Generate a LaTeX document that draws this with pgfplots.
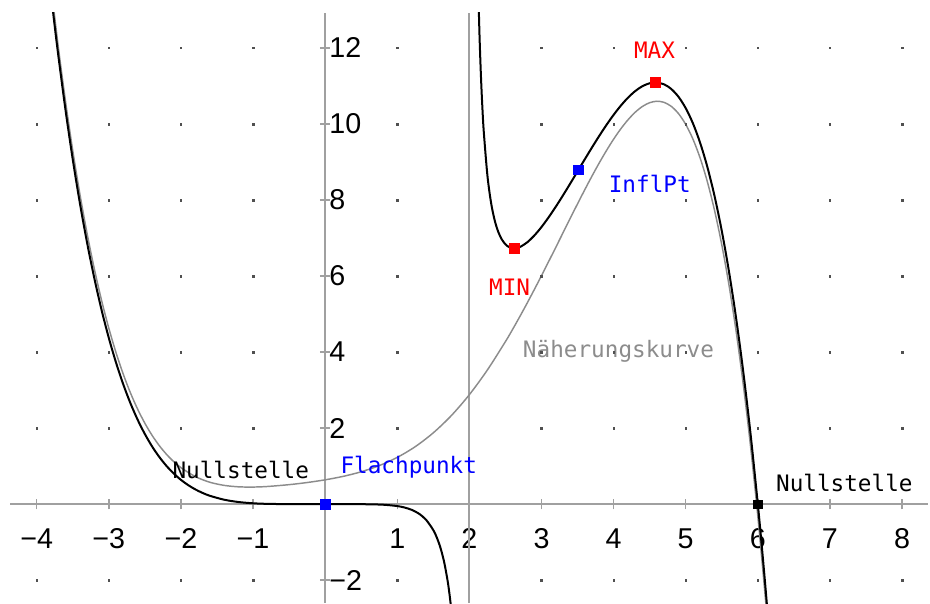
\documentclass[border=0pt]{standalone}
\usepackage{pgfplots}
\pgfplotsset{compat=1.18}
\usepackage{fontspec}
\setmainfont{Liberation Sans}
\newfontfamily\labelfont{DejaVu Sans Mono}

\definecolor{axisgray}{HTML}{A0A0A0}
\definecolor{curvegray}{HTML}{8C8C8C}
\definecolor{dotgray}{HTML}{505050}
\definecolor{ptblue}{HTML}{0000FF}
\definecolor{ptred}{HTML}{FF0000}

% f(x) = x^5 (6 - x) / (100 (x - 2)), tabulated
\pgfplotstableread{
x y
-3.80 13.388
-3.75 12.575
-3.70 11.801
-3.60 10.366
-3.50 9.072
-3.40 7.909
-3.30 6.867
-3.20 5.937
-3.10 5.108
-3.00 4.374
-2.90 3.726
-2.80 3.155
-2.70 2.656
-2.60 2.221
-2.50 1.845
-2.40 1.520
-2.30 1.242
-2.20 1.006
-2.10 0.807
-2.00 0.640
-1.90 0.502
-1.80 0.388
-1.70 0.296
-1.60 0.221
-1.40 0.117
-1.20 0.056
-1.00 0.023
-0.80 0.008
-0.50 0.001
0.00 0.000
0.50 -0.001
0.80 -0.014
1.00 -0.050
1.10 -0.088
1.20 -0.149
1.30 -0.249
1.40 -0.412
1.50 -0.683
1.55 -0.885
1.60 -1.153
1.65 -1.520
1.70 -2.035
1.73 -2.451
1.75 -2.790
}\leftbranch

\pgfplotstableread{
x y
2.10 15.930
2.11 14.790
2.12 13.846
2.14 12.375
2.16 11.284
2.18 10.449
2.20 9.792
2.25 8.650
2.30 7.938
2.35 7.474
2.40 7.166
2.45 6.964
2.50 6.836
2.55 6.763
2.62 6.730
2.70 6.765
2.80 6.884
2.90 7.065
3.00 7.290
3.10 7.548
3.20 7.829
3.30 8.128
3.40 8.438
3.5128 8.794
3.60 9.070
3.70 9.382
3.80 9.684
3.90 9.972
4.00 10.240
4.10 10.482
4.20 10.693
4.30 10.866
4.40 10.995
4.50 11.072
4.58 11.092
4.70 11.043
4.80 10.920
4.90 10.715
5.00 10.417
5.10 10.017
5.20 9.505
5.30 8.871
5.40 8.103
5.50 7.190
5.60 6.119
5.70 4.879
5.80 3.454
5.90 1.833
6.00 0.000
6.05 -1.001
6.10 -2.060
6.15 -3.180
}\rightbranch

% polynomial part of f (asymptotic curve)
\pgfplotstableread{
x y
-3.80 13.609
-3.70 12.026
-3.60 10.595
-3.50 9.305
-3.40 8.146
-3.30 7.109
-3.20 6.183
-3.10 5.359
-3.00 4.630
-2.90 3.987
-2.80 3.422
-2.70 2.928
-2.60 2.499
-2.50 2.129
-2.40 1.811
-2.30 1.540
-2.20 1.311
-2.10 1.119
-2.00 0.960
-1.80 0.725
-1.60 0.577
-1.40 0.494
-1.20 0.456
-1.00 0.450
-0.80 0.465
-0.50 0.513
-0.25 0.569
0.00 0.640
0.25 0.731
0.50 0.852
0.75 1.014
1.00 1.230
1.25 1.513
1.50 1.877
1.75 2.330
2.00 2.880
2.25 3.530
2.50 4.276
2.60 4.599
2.70 4.936
2.80 5.284
2.90 5.643
3.00 6.010
3.10 6.384
3.20 6.762
3.30 7.143
3.40 7.524
3.50 7.900
3.60 8.270
3.70 8.629
3.80 8.973
3.90 9.298
4.00 9.600
4.10 9.873
4.20 10.111
4.30 10.310
4.40 10.462
4.50 10.560
4.60 10.599
4.70 10.569
4.80 10.464
4.90 10.274
5.00 9.990
5.10 9.604
5.20 9.105
5.30 8.483
5.40 7.726
5.50 6.824
5.60 5.764
5.70 4.533
5.80 3.117
5.90 1.504
6.00 -0.320
6.10 -2.372
6.15 -3.488
}\approxcurve

\begin{document}
\begin{tikzpicture}
\begin{axis}[
  name=plot,
  scale only axis,
  width=688.5pt, height=442.5pt,
  xmin=-4.37, xmax=8.36, ymin=-2.6, ymax=12.92,
  axis lines=middle,
  axis line style={draw=axisgray, line width=1.5pt, -},
  xtick={-4,-3,-2,-1,1,2,3,4,5,6,7,8},
  xticklabels={−4,−3,−2,−1,1,2,3,4,5,6,7,8},
  ytick={-2,2,4,6,8,10,12},
  yticklabels={−2,2,4,6,8,10,12},
  tick align=center,
  major tick length=8pt,
  tick style={draw=axisgray, line width=1.1pt},
  ticklabel style={font=\fontsize{21.5}{24}\selectfont, inner sep=0pt, text=black},
  xticklabel style={anchor=north, yshift=-14pt},
  yticklabel style={anchor=west, xshift=7pt},
]

% dotted grid
\addplot[only marks, mark=square*, mark size=0.6pt, dotgray] coordinates {
(-4,-2) (-3,-2) (-2,-2) (-1,-2) (1,-2) (3,-2) (4,-2) (5,-2) (6,-2) (7,-2) (8,-2)
(-4,2) (-3,2) (-2,2) (-1,2) (1,2) (3,2) (4,2) (5,2) (6,2) (7,2) (8,2)
(-4,4) (-3,4) (-2,4) (-1,4) (1,4) (3,4) (4,4) (5,4) (6,4) (7,4) (8,4)
(-4,6) (-3,6) (-2,6) (-1,6) (1,6) (3,6) (4,6) (5,6) (6,6) (7,6) (8,6)
(-4,8) (-3,8) (-2,8) (-1,8) (1,8) (3,8) (4,8) (5,8) (6,8) (7,8) (8,8)
(-4,10) (-3,10) (-2,10) (-1,10) (1,10) (3,10) (4,10) (5,10) (6,10) (7,10) (8,10)
(-4,12) (-3,12) (-2,12) (-1,12) (1,12) (3,12) (4,12) (5,12) (6,12) (7,12) (8,12)
};

% vertical asymptote x = 2
\addplot[axisgray, line width=1.5pt] coordinates {(2,-2.6) (2,12.92)};

% asymptotic curve
\addplot[curvegray, line width=1.1pt, smooth] table {\approxcurve};

% the function
\addplot[black, line width=1.5pt, smooth] table {\leftbranch};
\addplot[black, line width=1.5pt, smooth] table {\rightbranch};

% special points
\addplot[only marks, mark=square*, mark size=3.6pt, ptred] coordinates {(2.6202,6.730) (4.5798,11.092)};
\addplot[only marks, mark=square*, mark size=3.6pt, ptblue] coordinates {(3.5128,8.794) (0,0)};
\addplot[only marks, mark=square*, mark size=3.2pt, black] coordinates {(6,0)};

\tikzset{lbl/.style={anchor=base west, inner sep=0pt, font=\labelfont\fontsize{17}{20}\selectfont}}
\node[lbl, text=ptred] at (axis cs:4.28,11.71) {MAX};
\node[lbl, text=ptblue] at (axis cs:3.93,8.21) {InflPt};
\node[lbl, text=ptred] at (axis cs:2.27,5.50) {MIN};
\node[lbl, text=curvegray] at (axis cs:2.74,3.87) {Näherungskurve};
\node[lbl, text=black] at (axis cs:-2.12,0.684) {Nullstelle};
\node[lbl, text=ptblue] at (axis cs:0.21,0.816) {Flachpunkt};
\node[lbl, text=black] at (axis cs:6.25,0.342) {Nullstelle};
\end{axis}
\pgfresetboundingbox
\useasboundingbox ([xshift=-7.5pt]plot.south west) rectangle ([xshift=1.5pt,yshift=9.75pt]plot.north east);
\end{tikzpicture}
\end{document}
